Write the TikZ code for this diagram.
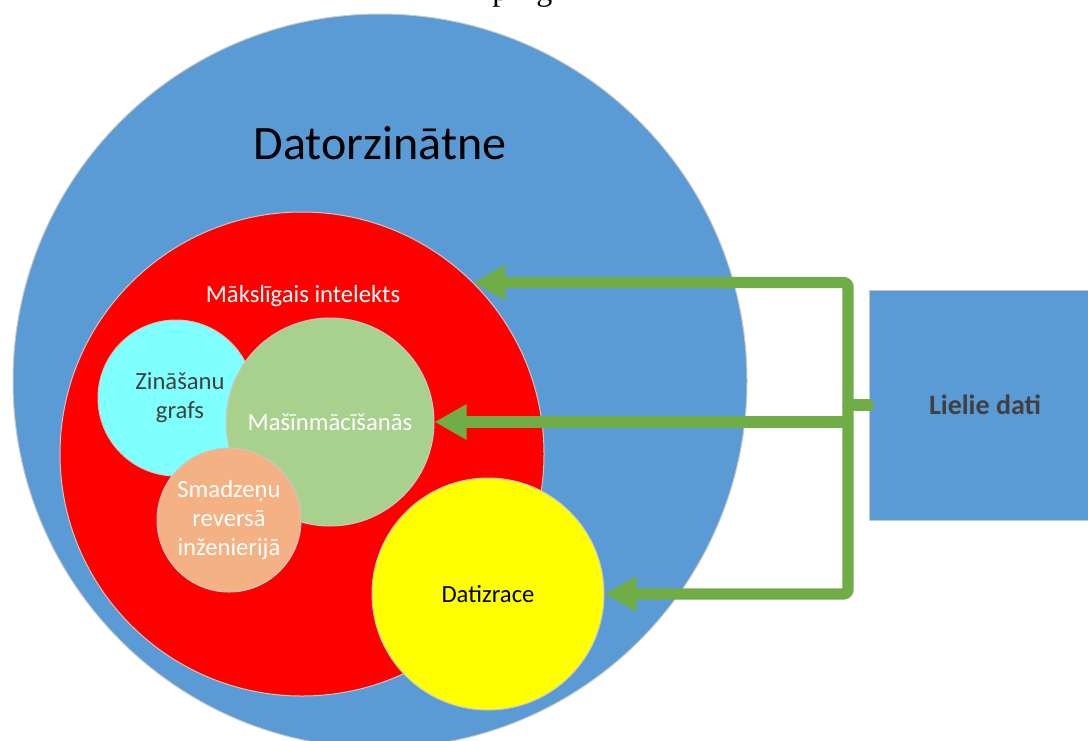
\documentclass[tikz,border=0pt]{standalone}
\usepackage{fontspec}
\setmainfont{Carlito}
\newfontfamily\seriffont{Liberation Serif}
\usetikzlibrary{arrows.meta}
\definecolor{cblue}{HTML}{5B9BD5}
\definecolor{cred}{HTML}{FF0000}
\definecolor{ccyan}{HTML}{80FFFF}
\definecolor{cgreen}{HTML}{A9D18E}
\definecolor{csalmon}{HTML}{F4B183}
\definecolor{cyellow}{HTML}{FFFF00}
\definecolor{carrow}{HTML}{70AD47}
\definecolor{cedge}{HTML}{C8C8C8}
\definecolor{cdark}{HTML}{404040}
\begin{document}
\begin{tikzpicture}[x=0.75pt,y=-0.75pt,
  disc/.style={circle, draw=cedge, line width=0.75pt, inner sep=0pt, minimum size=#1*1.5pt, align=center},
  lbl/.style={font=\fontsize{18.5}{21.75}\selectfont, align=center},
  link/.style={draw=carrow, line width=8.5pt, rounded corners=3pt, line join=round},
  headed/.style={-{Triangle[length=24pt,width=25pt]}},
  bothheaded/.style={{Triangle[length=24pt,width=25pt]}-{Triangle[length=24pt,width=25pt]}}
]
\path[use as bounding box] (0,0) rectangle (1088,740);
\clip (0,0) rectangle (1088,740);

\node[font=\seriffont\fontsize{24}{24}\selectfont, anchor=base west, inner sep=0pt] (frag) at (492,0) {p\hspace{21pt}g};

\node[disc=367, fill=cblue] (cs) at (380,381) {};
\node[font=\fontsize{36}{40}\selectfont] (cslbl) at (380,143) {Datorzinātne};
\node[disc=242, fill=cred] (ai) at (302,454) {};
\node[lbl, text=white] (ailbl) at (303,296) {Mākslīgais intelekts};
\node[disc=78, fill=ccyan, lbl, text=cdark] (kg) at (176,398) {\hspace*{6pt}Zināšanu\\\hspace*{6pt}grafs};
\node[disc=104, fill=cgreen, lbl, text=white] (ml) at (330,422) {Mašīnmācīšanās};
\node[disc=72, fill=csalmon, lbl, text=white] (br) at (229,520) {Smadzeņu\\reversā\\inženierijā};
\node[disc=116, fill=cyellow, lbl, text=black] (dm) at (488,594) {Datizrace};

\node[draw=cedge, line width=0.75pt, fill=cblue, minimum width=232*0.75pt, minimum height=230*0.75pt, inner sep=0pt,
      font=\bfseries\fontsize{21}{24}\selectfont, text=cdark] (bd) at (985,405) {Lielie dati};

\coordinate (bus) at (848,405);
\draw[link, bothheaded] (ai.45) -| (bus) |- (dm.east);
\draw[link, headed] (bus |- ml.east) -- (ml.east);
\draw[link, line cap=round] (bus) -- (bd.west);
\end{tikzpicture}
\end{document}
